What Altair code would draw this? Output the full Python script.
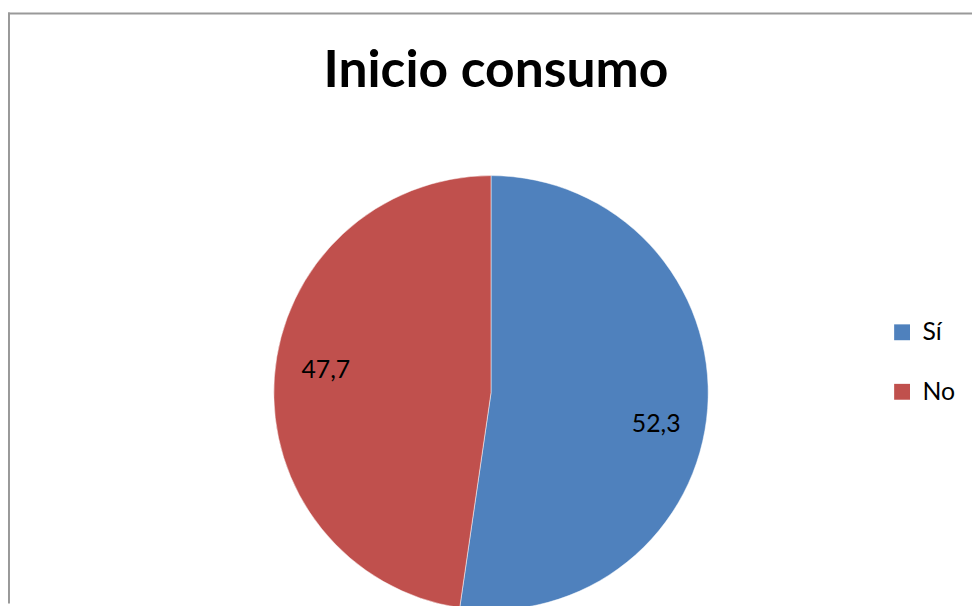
import altair as alt
import pandas as pd

title_text = ["Inicio consumo"]
categories = ["Sí", "No"]
values = [52.3, 47.7]
labels = ["52,3", "47,7"]
colors = ["#4F81BD", "#C0504D"]

df = pd.DataFrame({"cat": categories, "val": values, "lab": labels, "ord": list(range(len(categories)))})
total = float(sum(values))

W, H = 972, 598
CX, CY, R = 487, 385.5, 219

pie = alt.Chart(df).mark_arc(radius=R, x=CX, y=CY, stroke="white", strokeWidth=0.5).encode(
    theta=alt.Theta("val:Q", stack=True),
    order=alt.Order("ord:O"),
    color=alt.Color(
        "cat:N",
        scale=alt.Scale(domain=categories, range=colors),
        legend=alt.Legend(
            title=None,
            orient="none",
            legendX=889,
            legendY=312,
            symbolType="square",
            symbolSize=256,
            symbolStrokeWidth=0,
            labelFont="Lato",
            labelFontSize=25,
            labelColor="black",
            labelOffset=8,
            rowPadding=34,
        ),
    ),
)

lab_base = (
    alt.Chart(df)
    .transform_stack(stack="val", groupby=[], as_=["v0", "v1"], sort=[alt.SortField("ord")])
    .transform_calculate(mid="(datum.v0 + datum.v1) / 2")
)


def label(cat, dy):
    return (
        lab_base.transform_filter(alt.datum.cat == cat)
        .mark_text(radius=167, x=CX, y=CY, dy=dy, font="Lato", fontSize=25, color="black")
        .encode(
            theta=alt.Theta("mid:Q", scale=alt.Scale(domain=[0, total]), stack=None),
            text="lab:N",
        )
    )


text_si = label("Sí", 19)
text_no = label("No", -11)

title = alt.Chart(pd.DataFrame({"t": title_text})).mark_text(
    font="Lato", fontSize=52, fontWeight="bold", color="black", baseline="alphabetic", align="center"
).encode(text="t:N", x=alt.value(492), y=alt.value(77))

border_df = pd.DataFrame({"k": [0]})
top_line = alt.Chart(border_df).mark_rule(color="#999999", strokeWidth=2).encode(
    x=alt.value(0), x2=alt.value(W), y=alt.value(3)
)
left_line = alt.Chart(border_df).mark_rule(color="#999999", strokeWidth=2).encode(
    x=alt.value(1), y=alt.value(2), y2=alt.value(H)
)

chart = alt.layer(top_line, left_line, pie, text_si, text_no, title).properties(
    width=W,
    height=H,
    padding=0,
    autosize=alt.AutoSizeParams(type="none"),
).resolve_scale(theta="independent").configure_view(stroke=None)

chart.save("out.html", embed_options={"renderer": "svg", "actions": False})
